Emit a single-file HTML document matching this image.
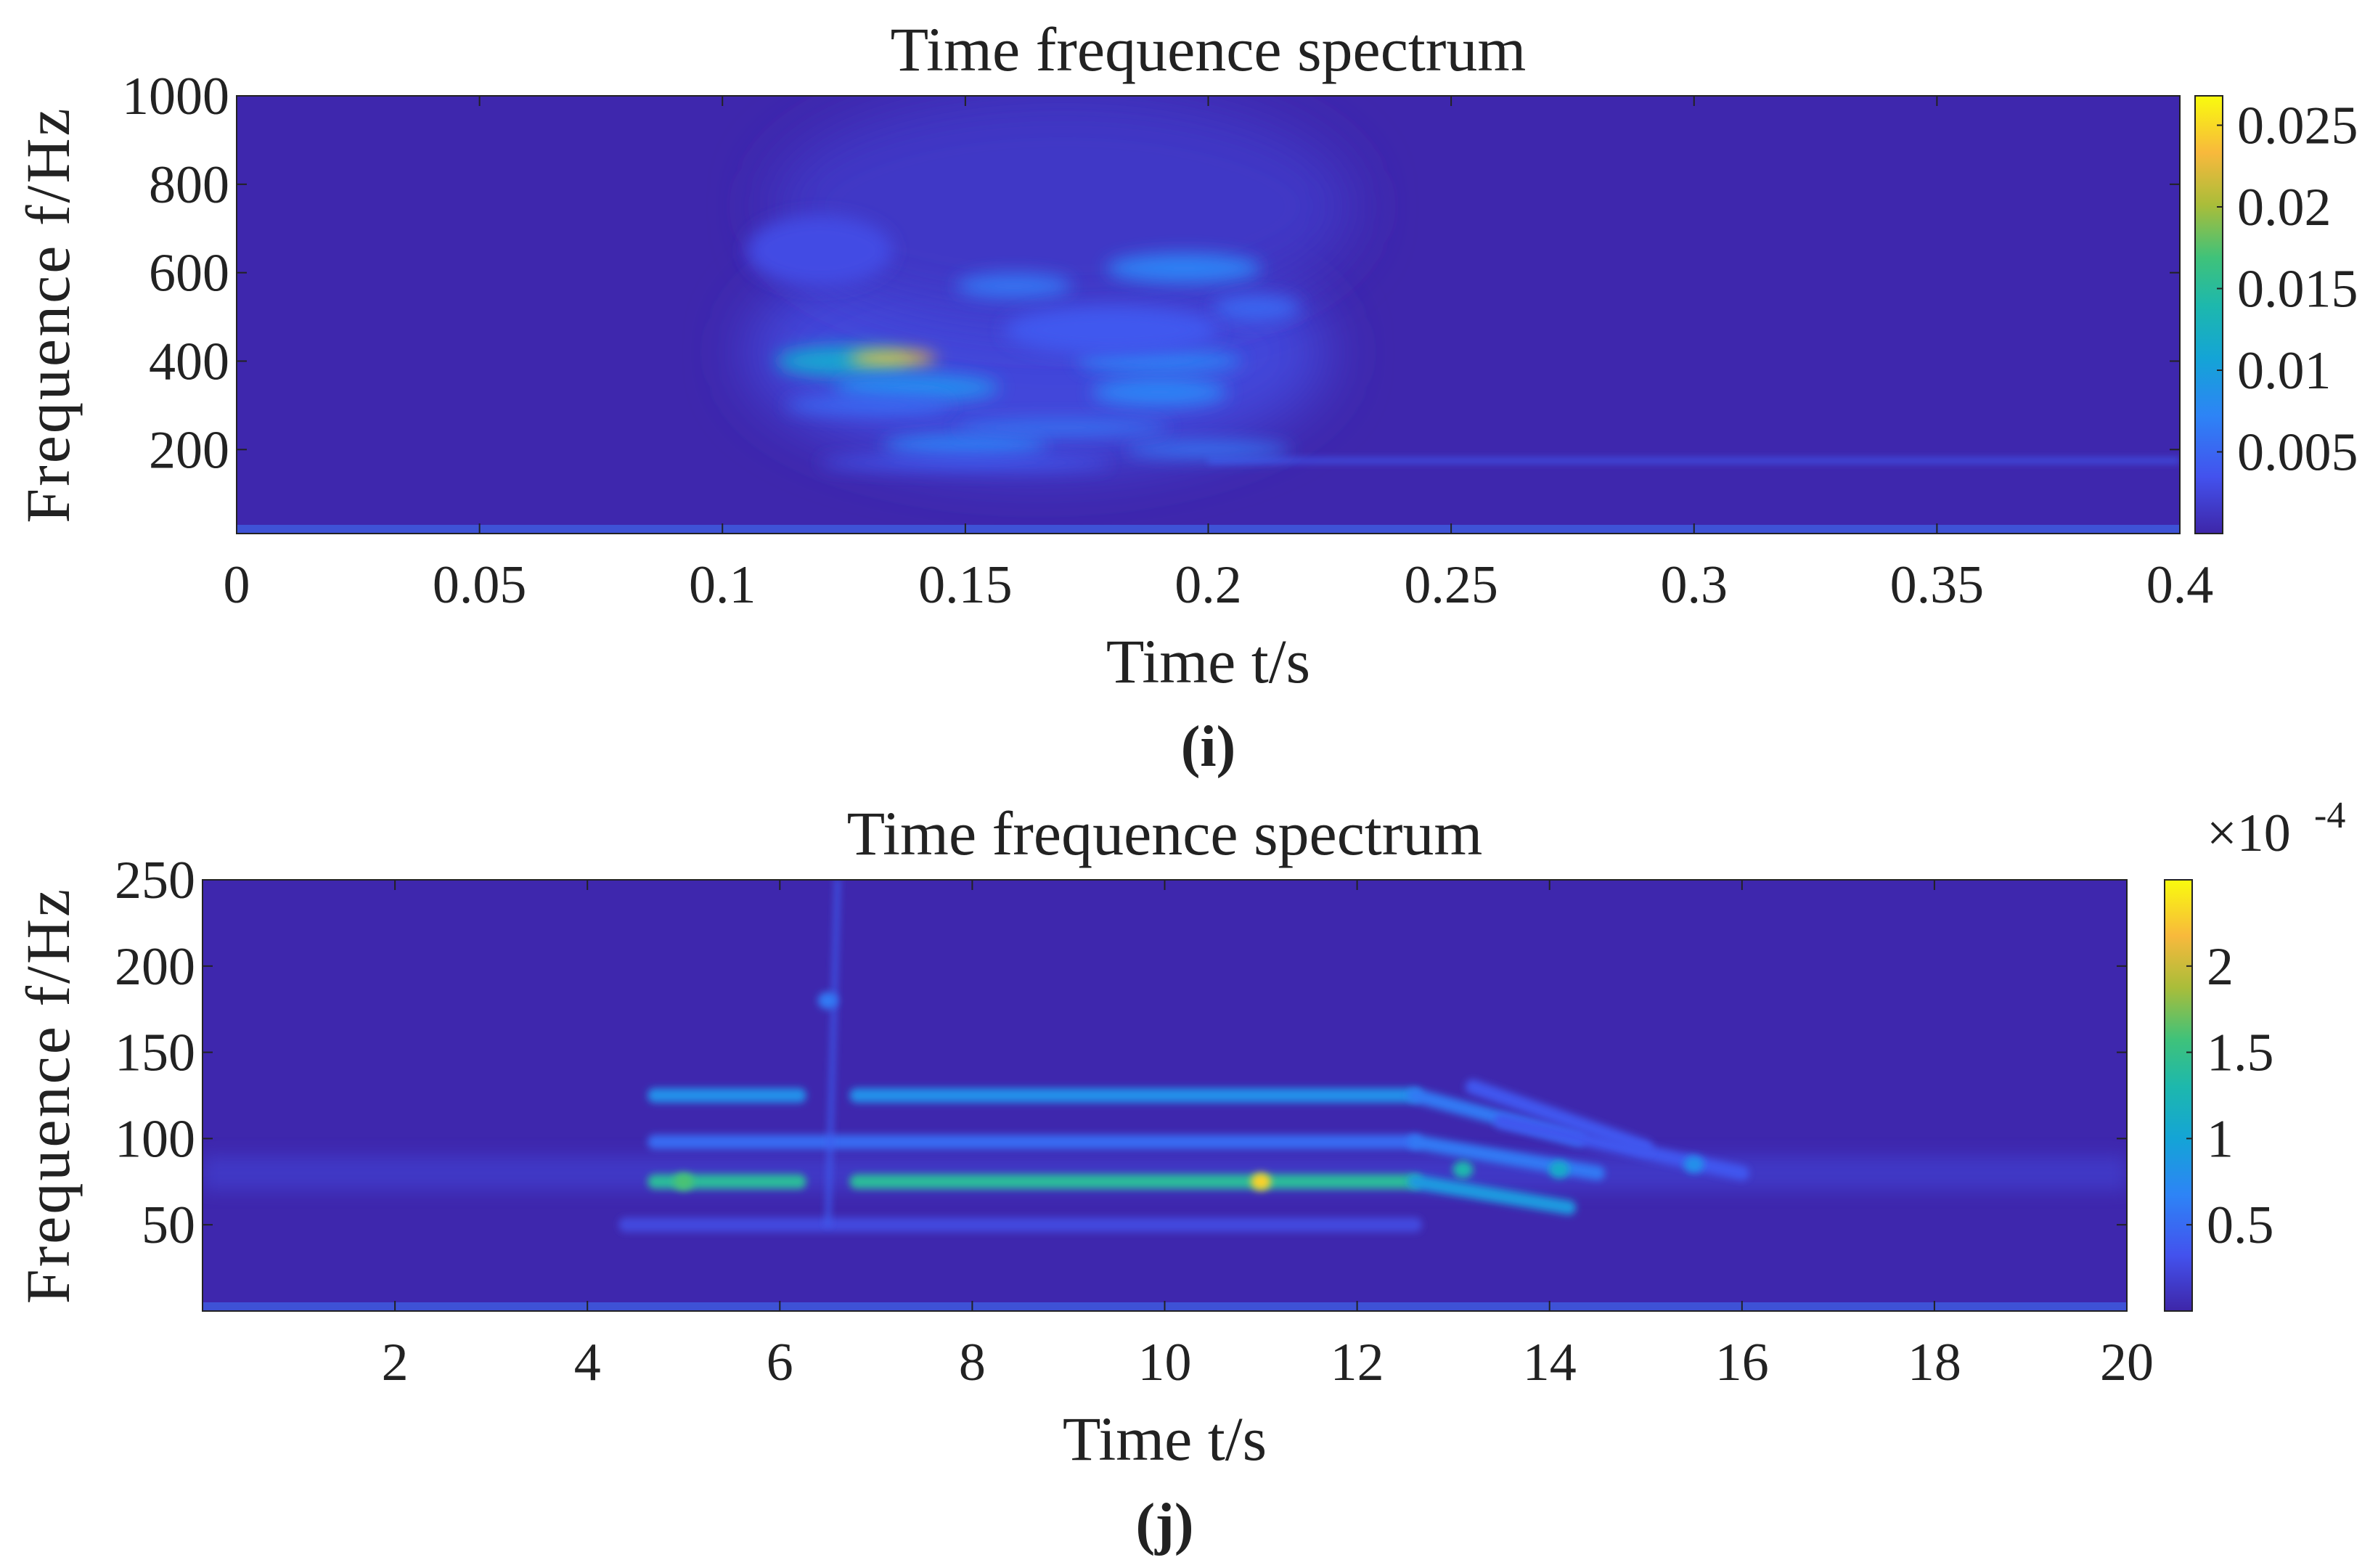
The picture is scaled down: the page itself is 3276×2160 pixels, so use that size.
<!DOCTYPE html>
<html><head><meta charset="utf-8">
<style>
html,body{margin:0;padding:0;background:#fff;}
svg{display:block;}
text{font-family:"Liberation Serif",serif;fill:#222;}
</style></head>
<body>
<svg id="fig" width="3276" height="2160" viewBox="0 0 3276 2160" xmlns="http://www.w3.org/2000/svg">
<defs>
<linearGradient id="parula" x1="0" y1="1" x2="0" y2="0">
<stop offset="0" stop-color="#3e26a8"/><stop offset="0.13" stop-color="#4352ee"/>
<stop offset="0.27" stop-color="#2d84f6"/><stop offset="0.4" stop-color="#14a4d6"/>
<stop offset="0.52" stop-color="#1db8ad"/><stop offset="0.63" stop-color="#3fc27a"/>
<stop offset="0.75" stop-color="#a9bd3a"/><stop offset="0.87" stop-color="#f8b93c"/>
<stop offset="1" stop-color="#f9fb0e"/>
</linearGradient>
<filter id="blurA" filterUnits="userSpaceOnUse" x="0" y="0" width="3276" height="2160"><feGaussianBlur stdDeviation="12"/></filter>
<filter id="blurC" filterUnits="userSpaceOnUse" x="0" y="0" width="3276" height="2160"><feGaussianBlur stdDeviation="40"/></filter>
<filter id="blurB" filterUnits="userSpaceOnUse" x="0" y="0" width="3276" height="2160"><feGaussianBlur stdDeviation="5"/></filter>
<clipPath id="clip1"><rect x="326" y="132" width="2677" height="603"/></clipPath>
<clipPath id="clip2"><rect x="279" y="1212" width="2651" height="594"/></clipPath>
</defs>
<g id="root"></g>
</svg>
<script>
// ---- Panel (i) data ----
const p1TimeTicks = [0,0.05,0.1,0.15,0.2,0.25,0.3,0.35,0.4];
const p1FreqTicks = [200,400,600,800,1000];
const p1CbTicks = [0.005,0.01,0.015,0.02,0.025];
const p1GlowT = [0.165,0.17];
const p1GlowF = [420,750];
const p1GlowV = [0.0025,0.0015];
const p1BlobT = [0.125,0.135,0.14,0.19,0.19,0.15,0.2,0.195,0.16,0.21,0.17,0.13,0.18,0.12,0.15];
const p1BlobF = [400,405,340,330,400,210,200,610,570,520,250,300,470,650,170];
const p1BlobV = [0.011,0.024,0.008,0.007,0.007,0.007,0.006,0.007,0.006,0.005,0.006,0.005,0.004,0.003,0.004];
const p1BlobW = [0.014,0.009,0.017,0.014,0.017,0.017,0.017,0.016,0.012,0.009,0.022,0.017,0.022,0.015,0.03];
const p1BlobH = [34,17,32,34,26,24,18,34,28,28,17,22,55,80,15];
// ---- Panel (j) data ----
const p2TimeTicks = [2,4,6,8,10,12,14,16,18,20];
const p2FreqTicks = [50,100,150,200,250];
const p2CbTicks = [0.5,1,1.5,2];
const p2LineT0 = [4.7,6.8,12.6,4.7,6.8,12.6,4.7,12.6,4.4,13.5,6.5,13.2];
const p2LineF0 = [75,75,75,125,125,125,98,98,50,110,50,130];
const p2LineT1 = [6.2,12.6,14.2,6.2,12.6,14.3,12.6,14.5,12.6,16,6.6,15];
const p2LineF1 = [75,75,60,125,125,100,98,80,50,80,250,95];
const p2LineV = [1.4,1.4,0.9,0.8,0.8,0.6,0.5,0.6,0.25,0.35,0.4,0.35];
const p2SpotT = [11,5,13.1,14.1,15.5,6.5];
const p2SpotF = [75,75,82,82,85,180];
const p2SpotV = [2.3,1.6,1.3,1.1,0.8,0.6];

const NS='http://www.w3.org/2000/svg';
const root=document.getElementById('root');
function mk(tag,attrs,parent){const e=document.createElementNS(NS,tag);for(const k in attrs)e.setAttribute(k,attrs[k]);(parent||root).appendChild(e);return e;}
const stops=[[0,[62,38,168]],[0.13,[67,82,238]],[0.27,[45,132,246]],[0.4,[20,164,214]],[0.52,[29,184,173]],[0.63,[63,194,122]],[0.75,[169,189,58]],[0.87,[248,185,60]],[1,[249,251,14]]];
function parula(v){v=Math.max(0,Math.min(1,v));for(let i=1;i<stops.length;i++){if(v<=stops[i][0]){const a=stops[i-1],b=stops[i],t=(v-a[0])/(b[0]-a[0]);const c=a[1].map((x,j)=>Math.round(x+(b[1][j]-x)*t));return `rgb(${c})`;}}return 'rgb(249,251,14)';}

function panel(cfg){
  const {x0,y0,w,h,tmin,tmax,fmin,fmax,cbx,cbmax,clip,id}=cfg;
  const X=t=>x0+(t-tmin)/(tmax-tmin)*w, Y=f=>y0+h-(f-fmin)/(fmax-fmin)*h;
  const g=mk('g',{'clip-path':`url(#${clip})`});
  
  
  mk('rect',{x:x0,y:y0,width:w,height:h,fill:'#3e27ad'},g);
  cfg.draw(g,X,Y,v=>parula(v/cbmax));
  mk('rect',{x:x0,y:y0+h-12,width:w,height:12,fill:'#3f5ee0',opacity:0.8},g);
  const ax=mk('rect',{x:x0,y:y0,width:w,height:h,fill:'none',stroke:'#222','stroke-width':2});
  
  
  cfg.tt.forEach(t=>{
    mk('line',{x1:X(t),x2:X(t),y1:y0+h,y2:y0+h-14,stroke:'#222','stroke-width':2});
    mk('line',{x1:X(t),x2:X(t),y1:y0,y2:y0+14,stroke:'#222','stroke-width':2});
    const tx=mk('text',{x:X(t),y:y0+h+95,'font-size':74,'text-anchor':'middle'});tx.textContent=t;
    
    
  });
  cfg.ft.forEach(f=>{
    mk('line',{x1:x0,x2:x0+14,y1:Y(f),y2:Y(f),stroke:'#222','stroke-width':2});
    mk('line',{x1:x0+w,x2:x0+w-14,y1:Y(f),y2:Y(f),stroke:'#222','stroke-width':2});
    const tx=mk('text',{x:x0-10,y:Y(f)+25,'font-size':74,'text-anchor':'end'});tx.textContent=f;
    
    
  });
  const cb=mk('rect',{x:cbx,y:y0,width:38,height:h,fill:'url(#parula)',stroke:'#222','stroke-width':2});
  
  
  cfg.ct.forEach(c=>{
    const yy=y0+h-c/cbmax*h;
    mk('line',{x1:cbx+38,x2:cbx+30,y1:yy,y2:yy,stroke:'#222','stroke-width':2});
    const tx=mk('text',{x:cbx+58,y:yy+25,'font-size':74});tx.textContent=c;
    
    
  });
  const tl=mk('text',{x:x0+w/2,y:y0-35,'font-size':86,'text-anchor':'middle'});tl.textContent='Time frequence spectrum';
  
  
  const xl=mk('text',{x:x0+w/2,y:y0+h+205,'font-size':86,'text-anchor':'middle'});xl.textContent='Time t/s';
  
  
  const yl=mk('text',{x:0,y:0,'font-size':86,'text-anchor':'middle',transform:`translate(95,${y0+h/2}) rotate(-90)`,'letter-spacing':'3'});yl.textContent='Frequence f/Hz';
  
  
  const cap=mk('text',{x:x0+w/2,y:y0+h+320,'font-size':80,'text-anchor':'middle','font-weight':'bold'});cap.textContent=cfg.cap;
  
  
}

panel({id:'panel-i',x0:326,y0:132,w:2677,h:603,tmin:0,tmax:0.4,fmin:10,fmax:1000,cbx:3024,cbmax:0.0268,clip:'clip1',
  tt:p1TimeTicks,ft:p1FreqTicks,ct:p1CbTicks,cap:'(i)',
  draw:(g,X,Y,col)=>{
    p1GlowT.forEach((t,i)=>{
      const e=mk('ellipse',{cx:X(t),cy:Y(p1GlowF[i]),rx:X(0.06)-X(0),ry:Y(0)-Y(260),fill:col(p1GlowV[i]),filter:'url(#blurC)'},g);
      
      
    });
    const band=mk('rect',{x:X(0.2),y:Y(180),width:X(0.4)-X(0.2),height:Y(170)-Y(180),fill:col(0.004),filter:'url(#blurB)'},g);
    
    
    p1BlobT.forEach((t,i)=>{
      const e=mk('ellipse',{cx:X(t),cy:Y(p1BlobF[i]),rx:(X(p1BlobW[i])-X(0)),ry:Y(0)-Y(p1BlobH[i]),fill:col(p1BlobV[i]),filter:'url(#blurA)'},g);
      
      
    });
  }});

panel({id:'panel-j',x0:279,y0:1212,w:2651,h:594,tmin:0,tmax:20,fmin:0,fmax:250,cbx:2982,cbmax:2.5,clip:'clip2',
  tt:p2TimeTicks,ft:p2FreqTicks,ct:p2CbTicks,cap:'(j)',
  draw:(g,X,Y,col)=>{
    const hz=mk('rect',{x:X(0),y:Y(90),width:X(20)-X(0),height:Y(70)-Y(90),fill:col(0.25),opacity:0.5,filter:'url(#blurA)'},g);
    
    
    p2LineT0.forEach((t,i)=>{
      const l=mk('line',{x1:X(t),y1:Y(p2LineF0[i]),x2:X(p2LineT1[i]),y2:Y(p2LineF1[i]),stroke:col(p2LineV[i]),'stroke-width':i===10?6:20,'stroke-linecap':'round',filter:'url(#blurB)'},g);
      
      
    });
    p2SpotT.forEach((t,i)=>{
      const s=mk('ellipse',{cx:X(t),cy:Y(p2SpotF[i]),rx:14,ry:12,fill:col(p2SpotV[i]),filter:'url(#blurB)'},g);
      
      
    });
  }});
const mul=mk('text',{x:3040,y:1172,'font-size':74});mul.textContent='×10';


const ex=mk('text',{x:3188,y:1140,'font-size':52});ex.textContent='-4';


</script>
</body></html>
